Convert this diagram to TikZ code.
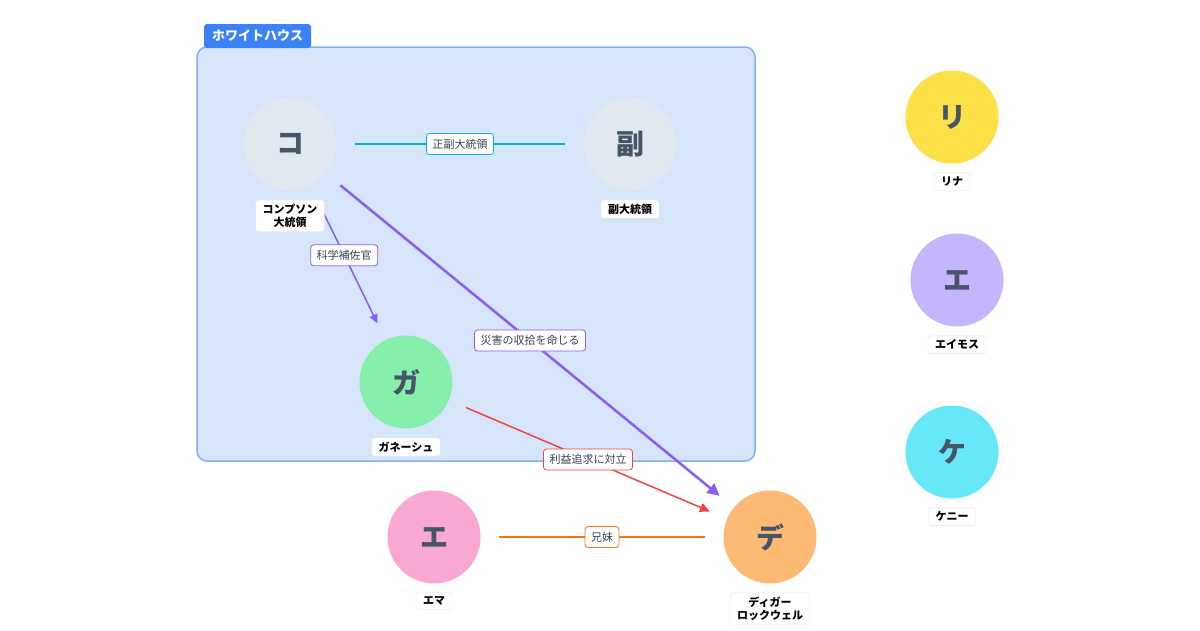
\documentclass[tikz,border=0pt]{standalone}
\usepackage{fontspec}
\setmainfont{Noto Sans CJK JP}
\usetikzlibrary{positioning, arrows.meta}

\definecolor{groupfill}{HTML}{D7E5FB}
\definecolor{groupline}{HTML}{80B0F7}
\definecolor{grouptag}{HTML}{3B82F6}
\definecolor{slatetext}{HTML}{475569}
\definecolor{boxline}{HTML}{E2E4E8}
\definecolor{reltext}{HTML}{374151}
\definecolor{cyanline}{HTML}{06B6D4}
\definecolor{purpleline}{HTML}{8B5CF6}
\definecolor{redline}{HTML}{EF4444}
\definecolor{orangeline}{HTML}{F97316}
\definecolor{kofill}{HTML}{E2E8F0}
\definecolor{gafill}{HTML}{86EFAC}
\definecolor{emafill}{HTML}{F9A8D4}
\definecolor{defill}{HTML}{FDBA74}
\definecolor{rifill}{HTML}{FDE047}
\definecolor{amosfill}{HTML}{C4B5FD}
\definecolor{kefill}{HTML}{67E8F9}

\tikzset{
  person/.style={circle, minimum size=93pt, inner sep=0pt, text=slatetext,
    font=\fontsize{28}{28}\selectfont\bfseries},
  namebox/.style={draw=boxline, fill=white, rounded corners=2.5pt, align=center,
    font=\fontsize{11}{13}\selectfont\bfseries, inner xsep=7pt, inner ysep=4pt},
  rel/.style={fill=white, rounded corners=3pt, text=reltext, line width=0.8pt,
    font=\fontsize{11}{13}\selectfont, inner xsep=6pt, minimum height=21pt},
  link/.style={shorten <=18.5pt, shorten >=18.5pt},
}

\begin{document}
\begin{tikzpicture}[x=1pt, y=-1pt]
		\useasboundingbox (0,0) rectangle (1200,630);
		
		% Group
		\draw[fill=groupfill, draw=groupline, line width=1.5pt, rounded corners=10pt] (197,47) rectangle (755,461);
		\node[fill=grouptag, text=white, rounded corners=3pt, minimum width=107pt, minimum height=24pt,
		  font=\fontsize{13}{13}\selectfont\bfseries] (tag) at (257.5,36) {ホワイトハウス};
		
		% People
		\node[person, fill=kofill] (ko) at (290,144) {コ};
		\node[person, fill=kofill] (fuku) at (630,144) {副};
		\node[person, fill=gafill] (ga) at (406,382) {ガ};
		\node[person, fill=emafill] (ema) at (434,537) {エ};
		\node[person, fill=defill] (de) at (770,537) {デ};
		\node[person, fill=rifill] (ri) at (952,117) {リ};
		\node[person, fill=amosfill] (amos) at (957,280) {エ};
		\node[person, fill=kefill] (ke) at (952,452) {ケ};
		
		% Relations
		\draw[link, cyanline, line width=2pt] (ko) -- node[rel, draw=cyanline] {正副大統領} (fuku);
		\draw[link, purpleline, line width=1.5pt, -{Triangle[length=9pt,width=8pt]}] (ko) -- node[rel, draw=purpleline, pos=0.45] {科学補佐官} (ga);
		\draw[link, purpleline, line width=2.5pt, -{Triangle[length=12pt,width=12pt]}] (ko) -- node[rel, draw=purpleline] {災害の収拾を命じる} (de);
		\draw[link, redline, line width=1.5pt, -{Triangle[length=10pt,width=9pt]}] (ga) -- node[rel, draw=redline] {利益追求に対立} (de);
		\draw[link, orangeline, line width=2pt] (ema) -- node[rel, draw=orangeline] {兄妹} (de);
		
		% Names
		\node[namebox, below=9pt of ko] (koname) {コンプソン\\大統領};
		\node[namebox, below=9pt of fuku] (fukuname) {副大統領};
		\node[namebox, below=9pt of ga] (ganame) {ガネーシュ};
		\node[namebox, below=9pt of ema] (emaname) {エマ};
		\node[namebox, below=9pt of de] (dename) {ディガー\\ロックウェル};
		\node[namebox, below=9pt of ri] (riname) {リナ};
		\node[namebox, below=9pt of amos] (amosname) {エイモス};
		\node[namebox, below=9pt of ke] (kename) {ケニー};
		
	\end{tikzpicture}
\end{document}
